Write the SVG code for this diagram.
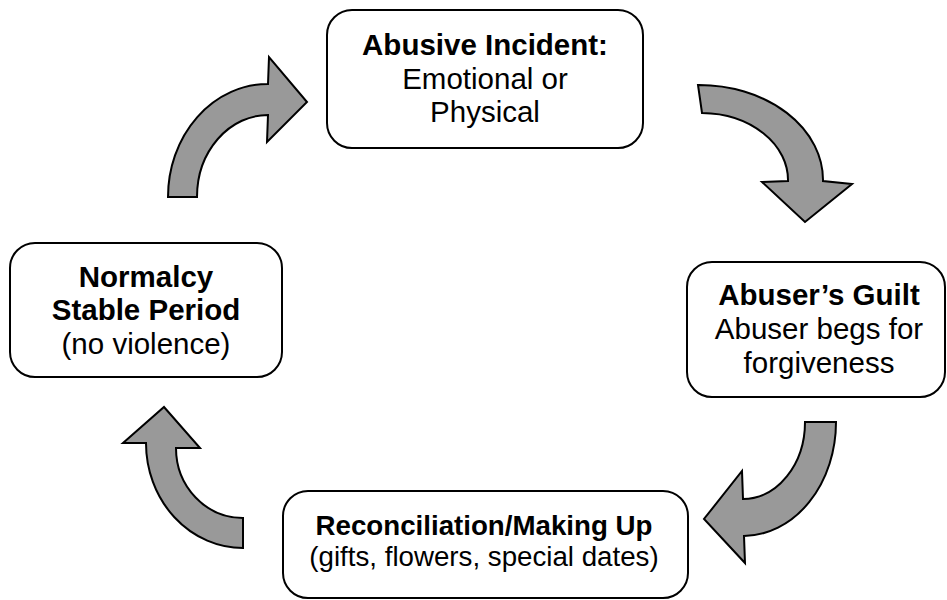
<svg xmlns="http://www.w3.org/2000/svg" width="947" height="600" viewBox="0 0 947 600">
<style>
.box{fill:#fff;stroke:#000;stroke-width:2}
.arr{fill:#999;stroke:#000;stroke-width:2;stroke-linejoin:miter}
text{font-family:"Liberation Sans",Arial,sans-serif;fill:#000;text-anchor:middle}
.t{font-size:29.5px}
.s{font-size:27.7px}
.b{font-weight:bold}
</style>
<rect width="947" height="600" fill="#fff"/>
<g id="connectors">
<path class="arr" d="M168,197 A100,113 0 0 1 268,84 L269,57 L307,102 L267,142 L268,115 A71,82 0 0 0 197,197 Z"/>
<path class="arr" d="M698,85 A124,95 0 0 1 823,181 L852,184 L805,222 L762,182 L788,181 A87,67 0 0 0 702,113 Z"/>
<path class="arr" d="M836,422 A93,114 0 0 1 744,536 L745,563 L704,519 L742,471 L743,499 A62,77 0 0 0 805,422 Z"/>
<path class="arr" d="M243,548 A97,105 0 0 1 146,443 L123,443 L164,407 L200,448 L176,448 A67,70 0 0 0 243,518 Z"/>
</g>
<g id="incident">
<rect class="box" x="327" y="10" width="316" height="138" rx="25"/>
<text class="t b" x="485" y="55">Abusive Incident:</text>
<text class="t" x="485" y="89">Emotional or</text>
<text class="t" x="485" y="122">Physical</text>
</g>
<g id="guilt">
<rect class="box" x="687" y="262" width="258" height="135" rx="25"/>
<text class="t b" x="819" y="305">Abuser’s Guilt</text>
<text class="t" x="819" y="339">Abuser begs for</text>
<text class="t" x="819" y="373">forgiveness</text>
</g>
<g id="reconciliation">
<rect class="box" x="283" y="491" width="405" height="107" rx="25"/>
<text class="s b" x="484" y="535">Reconciliation/Making Up</text>
<text class="s" x="484" y="566">(gifts, flowers, special dates)</text>
</g>
<g id="normalcy">
<rect class="box" x="10" y="243" width="272" height="134" rx="25"/>
<text class="t b" x="146" y="287">Normalcy</text>
<text class="t b" x="146" y="320">Stable Period</text>
<text class="t" x="146" y="354">(no violence)</text>
</g>
</svg>
